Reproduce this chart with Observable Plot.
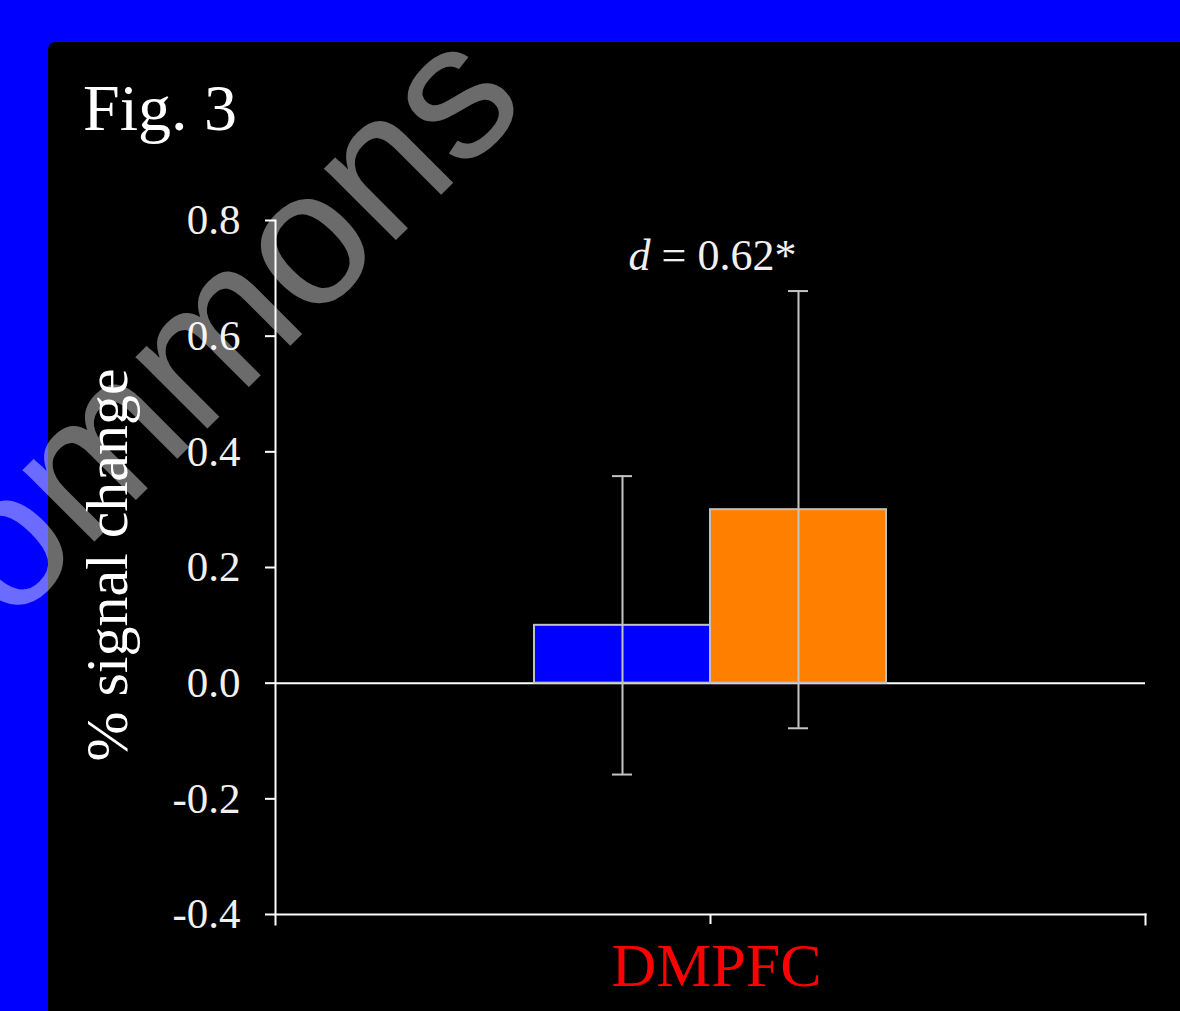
<!DOCTYPE html>
<html>
<head>
<meta charset="utf-8">
<script src="https://cdn.jsdelivr.net/npm/d3@7"></script>
<script src="https://cdn.jsdelivr.net/npm/@observablehq/plot@0.6"></script>
<style>
  html, body { margin: 0; padding: 0; background: #0000ff; }
  #wrap { position: relative; width: 1180px; height: 1011px; overflow: hidden; background: #0000ff; }
  #panel { position: absolute; left: 48px; top: 42px; right: 0; bottom: 0; background: #000; border-top-left-radius: 7px; }
  #chart { position: absolute; left: 0; top: 0; }
  #chart svg { display: block; }
  #deco { position: absolute; left: 0; top: 0; pointer-events: none; }
</style>
</head>
<body>
<div id="wrap">
  <div id="panel"></div>
  <div id="chart"></div>
  <svg id="deco" width="1180" height="1011" xmlns="http://www.w3.org/2000/svg">
    <text x="83" y="130" fill="#ffffff" font-family="Liberation Serif, Times New Roman, serif" font-size="66">Fig. 3</text>
    <text transform="translate(127,565) rotate(-90)" text-anchor="middle" fill="#ffffff" font-family="Liberation Serif, Times New Roman, serif" font-size="60">% signal change</text>
    <text transform="translate(530,106) rotate(-45)" text-anchor="end" fill="#ffffff" fill-opacity="0.42" font-family="Liberation Sans, Arial, sans-serif" font-size="192">Commons</text>
  </svg>
</div>
<script>
// ---- data ----
const regions = ["DMPFC"];
const groups = ["Group A", "Group B"];
const means = [0.10, 0.30];
const errors = [0.258, 0.378];
const yTicks = [-0.4, -0.2, 0.0, 0.2, 0.4, 0.6, 0.8];
const yDomain = [-0.4, 0.8];
const annotation = "d = 0.62*";
const barColors = ["#0000ff", "#ff8000"];

const rows = groups.map((g, i) => ({
  region: regions[0],
  group: g,
  mean: means[i],
  lo: means[i] - errors[i],
  hi: means[i] + errors[i]
}));

const serif = "Liberation Serif, Times New Roman, serif";
const fmt = d => d.toFixed(1);

const chart = Plot.plot({
  width: 1180,
  height: 1011,
  marginLeft: 275,
  marginRight: 35,
  marginTop: 220,
  marginBottom: 97,
  style: { background: "transparent", color: "#ffffff", fontFamily: serif, overflow: "visible" },
  y: { domain: yDomain, ticks: yTicks, label: null },
  x: { domain: groups, paddingInner: 0, paddingOuter: 1.46, axis: null },
  fx: { domain: regions, padding: 0, label: null },
  color: { domain: groups, range: barColors },
  marks: [
    Plot.axisY({ ticks: yTicks, tickFormat: fmt, tickSize: 10, tickPadding: 25, fontSize: 43, stroke: "#ffffff", strokeWidth: 2, fill: "#f0f0f0", label: null }),
    Plot.axisFx({ anchor: "bottom", tickSize: 10, tickFormat: () => "", stroke: "#ffffff", strokeWidth: 2, label: null }),
    Plot.axisFx({ anchor: "bottom", tickSize: 0, tickPadding: 27, fontSize: 62, fill: "#ff0000", dx: 6, label: null }),
    Plot.frame({ anchor: "left", stroke: "#ffffff", strokeWidth: 2, insetBottom: -10 }),
    Plot.frame({ anchor: "bottom", stroke: "#ffffff", strokeWidth: 2 }),
    Plot.frame({ anchor: "right", stroke: "#ffffff", strokeWidth: 2, insetTop: 694, insetBottom: -10 }),
    Plot.ruleY([0], { stroke: "#ffffff", strokeWidth: 2 }),
    Plot.barY(rows, { fx: "region", x: "group", y: "mean", fill: "group", stroke: "#c0c0c0", strokeWidth: 2 }),
    Plot.ruleX(rows, { fx: "region", x: "group", y1: "lo", y2: "hi", stroke: "#c4c4c4", strokeWidth: 2 }),
    Plot.tickY(rows, { fx: "region", x: "group", y: "lo", stroke: "#c4c4c4", strokeWidth: 2, insetLeft: 78, insetRight: 78 }),
    Plot.tickY(rows, { fx: "region", x: "group", y: "hi", stroke: "#c4c4c4", strokeWidth: 2, insetLeft: 78, insetRight: 78 }),
    Plot.text([annotation], { y: d3.max(rows, d => d.hi), text: d => d, frameAnchor: "middle", lineAnchor: "bottom", dy: -21, dx: 2, fontSize: 44, fill: "#f0f0f0" })
  ]
});

document.getElementById("chart").appendChild(chart);

// italic "d" in the effect-size annotation
chart.querySelectorAll("text").forEach(t => {
  if (t.textContent === annotation) {
    const ns = "http://www.w3.org/2000/svg";
    const rest = annotation.slice(1);
    while (t.firstChild) t.removeChild(t.firstChild);
    const it = document.createElementNS(ns, "tspan");
    it.setAttribute("font-style", "italic");
    it.textContent = annotation[0];
    t.appendChild(it);
    const r = document.createElementNS(ns, "tspan");
    r.textContent = rest;
    t.appendChild(r);
  }
});
</script>
</body>
</html>
